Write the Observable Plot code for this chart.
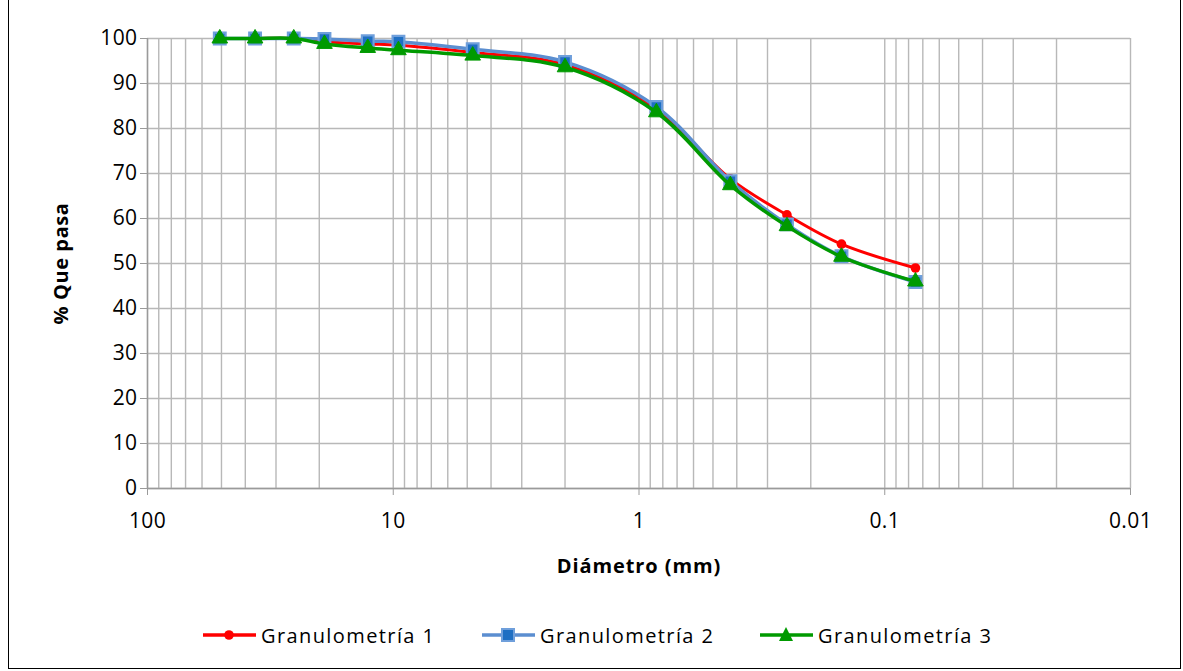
<!DOCTYPE html>
<html>
<head>
<meta charset="utf-8">
<script src="https://cdn.jsdelivr.net/npm/d3@7"></script>
<script src="https://cdn.jsdelivr.net/npm/@observablehq/plot@0.6"></script>
<style>
  html, body { margin: 0; padding: 0; background: #fff; }
  #wrap { position: relative; width: 1183px; height: 671px; overflow: hidden; font-family: "Open Sans", sans-serif; }
  #frame { position: absolute; left: 8px; top: -3px; width: 1173px; height: 672px; border: 1.5px solid #000; box-sizing: border-box; pointer-events: none; }
  g[aria-label="x-axis label"] text { font-weight: bold; font-size: 20px; letter-spacing: 0.9px; }
  g[aria-label="y-axis label"] text { font-weight: bold; font-size: 20px; letter-spacing: 0.6px; }
  g[aria-label="x-axis tick label"] text, g[aria-label="y-axis tick label"] text { font-size: 21px; letter-spacing: 0.4px; }
  #legend { position: absolute; top: 622px; left: 0; width: 1183px; height: 26px; font-size: 20px; letter-spacing: 1.4px; color: #000; }
  .item { position: absolute; top: 0; height: 26px; display: flex; align-items: center; }
  .item svg { margin-right: 5px; }
</style>
</head>
<body>
<div id="wrap">
  <div id="chart"></div>
  <div id="legend"></div>
  <div id="frame"></div>
</div>
<script>
// Sieve sizes (mm)
const diameters = [50.8, 36.5, 25.4, 19.05, 12.7, 9.525, 4.75, 2.0, 0.85, 0.425, 0.25, 0.15, 0.075];
// % passing per series
const granulometria1 = [100, 100, 100, 99.3, 98.8, 98.5, 96.9, 94.2, 84.3, 68.8, 60.8, 54.3, 49.0];
const granulometria2 = [100, 100, 100, 99.9, 99.4, 99.3, 97.6, 94.8, 84.8, 68.3, 58.7, 51.6, 45.9];
const granulometria3 = [100, 100, 100, 98.8, 97.9, 97.4, 96.2, 93.6, 83.6, 67.4, 58.3, 51.5, 46.0];
const seriesNames = ["Granulometría 1", "Granulometría 2", "Granulometría 3"];
const xTicks = [100, 10, 1, 0.1, 0.01];
const xTickLabels = ["100", "10", "1", "0.1", "0.01"];
const yTicks = [0, 10, 20, 30, 40, 50, 60, 70, 80, 90, 100];

const toRows = (vals) => diameters.map((d, i) => ({d, p: vals[i]}));
const s1 = toRows(granulometria1), s2 = toRows(granulometria2), s3 = toRows(granulometria3);

const minorGrid = [];
for (const dec of [0.01, 0.1, 1, 10]) for (let k = 1; k <= 9; k++) minorGrid.push(+(dec * k).toPrecision(3));
minorGrid.push(100);

const gridColor = "#b8b8b8";
const chart = Plot.plot({
  width: 1183,
  height: 671,
  marginLeft: 147,
  marginRight: 53,
  marginTop: 38,
  marginBottom: 183,
  style: { fontFamily: "'Open Sans', sans-serif", fontSize: "21px", color: "#000", background: "transparent", overflow: "visible" },
  x: { type: "log", domain: [100, 0.01] },
  y: { domain: [0, 100] },
  marks: [
    Plot.ruleX(minorGrid, { stroke: gridColor, strokeWidth: 1.4 }),
    Plot.ruleY(yTicks, { stroke: gridColor, strokeWidth: 1.4 }),
    Plot.ruleX([100], { stroke: "#9a9a9a", strokeWidth: 1.4 }),
    Plot.ruleY([0], { stroke: "#9a9a9a", strokeWidth: 1.4 }),
    Plot.axisX(xTicks, {
      tickFormat: (d) => xTickLabels[xTicks.indexOf(d)],
      tickSize: 7, tickPadding: 18, stroke: "#9a9a9a", fill: "#000", fontSize: 21,
      label: "Diámetro (mm)", labelAnchor: "center", labelOffset: 84, labelArrow: "none"
    }),
    Plot.axisY(yTicks, {
      tickSize: 7, tickPadding: 3, stroke: "#9a9a9a", fill: "#000", fontSize: 21,
      label: "% Que pasa", labelAnchor: "center", labelOffset: 94, labelArrow: "none"
    }),
    Plot.line(s1, { x: "d", y: "p", curve: "catmull-rom", stroke: "#ff0000", strokeWidth: 3 }),
    Plot.dot(s1, { x: "d", y: "p", symbol: "circle", r: 4.8, fill: "#ff0000", stroke: "none" }),
    Plot.line(s2, { x: "d", y: "p", curve: "catmull-rom", stroke: "#5b8ed0", strokeWidth: 3.5 }),
    Plot.dot(s2, { x: "d", y: "p", symbol: "square", r: 6.6, fill: "#1e6fc3", stroke: "#6f9fdb", strokeWidth: 2.2 }),
    Plot.line(s3, { x: "d", y: "p", curve: "catmull-rom", stroke: "#009a00", strokeWidth: 3.5 }),
    Plot.dot(s3, { x: "d", y: "p", symbol: "triangle", r: 5.8, fill: "#009a00", stroke: "#009a00", strokeWidth: 1 })
  ]
});
document.getElementById("chart").appendChild(chart);

// Legend
const legend = document.getElementById("legend");
const legendLeft = [203, 482, 760];
const markers = [
  '<circle cx="26" cy="13" r="4.8" fill="#ff0000"/>',
  '<rect x="20" y="7" width="12" height="12" fill="#1e6fc3" stroke="#6f9fdb" stroke-width="2"/>',
  '<path d="M26,5 L33,19 L19,19 Z" fill="#009a00"/>'
];
const lineColors = ["#ff0000", "#5b8ed0", "#009a00"];
seriesNames.forEach((name, i) => {
  const item = document.createElement("div");
  item.className = "item";
  item.style.left = legendLeft[i] + "px";
  item.innerHTML = `<svg width="53" height="26"><line x1="0" y1="13" x2="53" y2="13" stroke="${lineColors[i]}" stroke-width="3.5"/>${markers[i]}</svg><span>${name}</span>`;
  legend.appendChild(item);
});
</script>
</body>
</html>
